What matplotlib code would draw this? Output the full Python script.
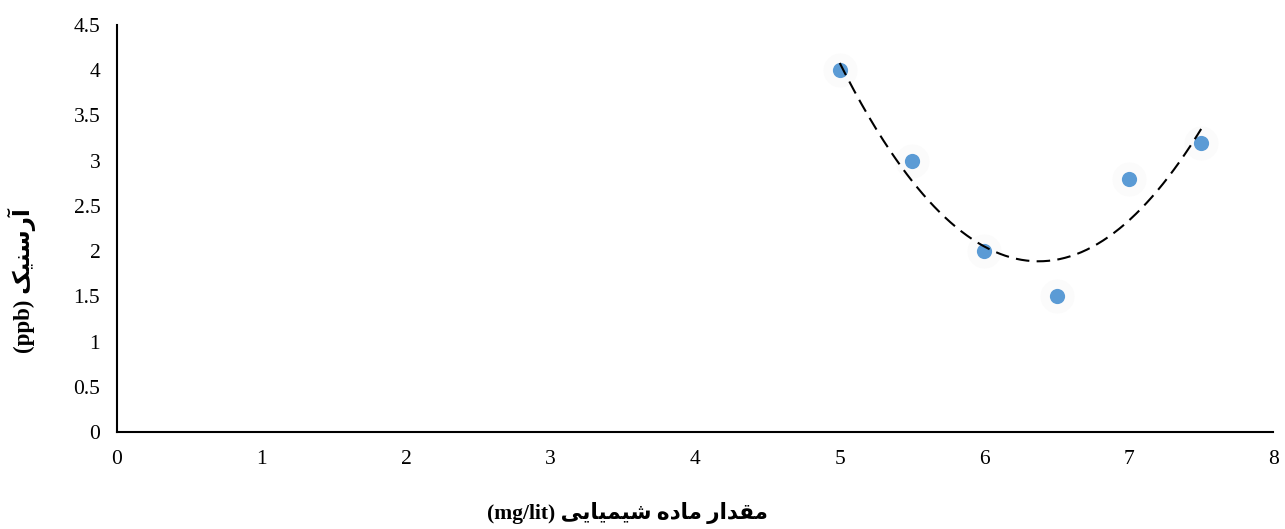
import numpy as np
import matplotlib.pyplot as plt

# ------------- dados -------------------
x_vals = [5, 5.5, 6, 6.5, 7, 7.5]
y_vals = [4, 3, 2, 1.5, 2.8, 3.2]
x_ticks = [0, 1, 2, 3, 4, 5, 6, 7, 8]
y_ticks = [0, 0.5, 1, 1.5, 2, 2.5, 3, 3.5, 4, 4.5]

# persian text, already shaped (presentation forms) and in visual order
x_label = ("(mg/lit) "
           "\uFBFD\uFBFE\uFE8E\uFBFF\uFEE4\uFBFF\uFEB7 "
           "\uFEE9\uFEA9\uFE8E\uFEE3 "
           "\uFEAD\uFE8D\uFEAA\uFED8\uFEE3")
y_label = "(ppb) \uFB8F\uFBFF\uFEE8\uFEB3\uFEAD\uFE81"

fonts = ["Liberation Serif", "DejaVu Sans"]
plt.rcParams["font.family"] = fonts

fig = plt.figure(figsize=(12.85, 5.29), dpi=100)
ax = fig.add_axes([0.091, 0.183, 0.900, 0.770])

# sombra suave dos pontos + pontos
ax.scatter(x_vals, y_vals, s=600, color="#fbfbfb", zorder=2, linewidths=0)
ax.scatter(x_vals, y_vals, s=120, color="#5B9BD5", zorder=3, linewidths=0)

# linha de tendencia (polinomial ordem 2)
coef = np.polyfit(x_vals, y_vals, 2)
xt = np.linspace(min(x_vals), max(x_vals), 200)
ax.plot(xt, np.polyval(coef, xt), color="black", lw=1.5,
        dashes=(6.5, 3.5), zorder=4)

ax.set_xlim(0, 8)
ax.set_ylim(0, 4.5)
ax.set_xticks(x_ticks)
ax.set_yticks(y_ticks)
ax.set_xticklabels([str(v) for v in x_ticks])
ax.set_yticklabels([("%g" % v) for v in y_ticks])
ax.tick_params(length=0, labelsize=15.5, pad=12)
ax.tick_params(axis="x", pad=13)

for s in ["top", "right"]:
    ax.spines[s].set_visible(False)
for s in ["left", "bottom"]:
    ax.spines[s].set_linewidth(1.5)
    ax.spines[s].set_color("black")

fig.text(0.488, 0.03, x_label, ha="center", va="center",
         fontsize=15.5, fontweight="bold", family=fonts)
fig.text(0.017, 0.47, y_label, ha="center", va="center", rotation=90,
         fontsize=16.5, fontweight="bold", family=fonts)

fig.savefig("out.png", dpi=100)
